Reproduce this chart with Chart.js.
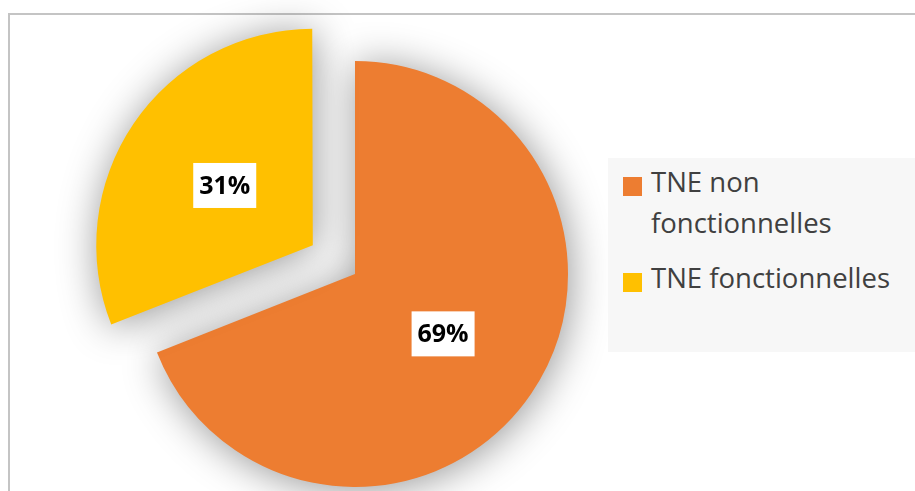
<!DOCTYPE html>
<html>
<head>
<meta charset="utf-8">
<script src="https://cdn.jsdelivr.net/npm/chart.js@4/dist/chart.umd.min.js"></script>
<style>
  html, body { margin: 0; padding: 0; background: #ffffff; }
  #wrap { position: relative; width: 915px; height: 491px; overflow: hidden; }
  #frame { position: absolute; left: 8px; top: 13px; width: 920px; height: 500px;
           border-left: 2px solid #c4c4c4; border-top: 2px solid #c4c4c4; box-sizing: border-box; }
  canvas { position: absolute; left: 0; top: 0; }
  #legend { position: absolute; left: 608px; top: 158px; width: 307px; height: 194px;
            background: #f7f7f7; font-family: "Open Sans", sans-serif; font-size: 27.5px;
            color: #404040; box-sizing: border-box; padding: 3px 0 0 15px; }
  .item { display: flex; align-items: flex-start; margin-bottom: 14px; }
  .sw { width: 19px; height: 19px; flex: none; margin-top: 16px; margin-right: 9px; }
  .txt { max-width: 262px; line-height: 41px; white-space: normal; }
</style>
</head>
<body>
<div id="wrap">
  <div id="frame"></div>
  <canvas id="c" width="915" height="491"></canvas>
  <div id="legend"></div>
</div>
<script>
const categories = ["TNE non fonctionnelles", "TNE fonctionnelles"];
const values = [69, 31];
const valueLabels = ["69%", "31%"];
const colors = ["#ED7D31", "#FFC000"];
// Chart.js v4 translates an arc by offset/4, so 204 gives the ~51px explosion
const explode = [0, 204];

const shadowPlugin = {
  id: 'shadow',
  beforeDatasetsDraw(chart) {
    const ctx = chart.ctx;
    ctx.save();
    ctx.shadowColor = 'rgba(0,0,0,0.42)';
    ctx.shadowBlur = 40;
    ctx.shadowOffsetX = 2;
    ctx.shadowOffsetY = 3;
  },
  afterDatasetsDraw(chart) {
    chart.ctx.restore();
  }
};

const labelPlugin = {
  id: 'boxLabels',
  afterDatasetsDraw(chart) {
    const ctx = chart.ctx;
    const meta = chart.getDatasetMeta(0);
    ctx.save();
    ctx.font = 'bold 25px "Open Sans", sans-serif';
    ctx.textAlign = 'center';
    ctx.textBaseline = 'middle';
    meta.data.forEach((arc, i) => {
      const p = arc.getProps(['x', 'y', 'startAngle', 'endAngle', 'outerRadius', 'innerRadius'], true);
      const mid = (p.startAngle + p.endAngle) / 2;
      const off = (arc.options.offset || 0) / 4;
      const d = off + (p.innerRadius + p.outerRadius) / 2;
      const cx = p.x + Math.cos(mid) * d;
      const cy = p.y + Math.sin(mid) * d;
      ctx.fillStyle = '#ffffff';
      ctx.fillRect(cx - 31.5, cy - 22.5, 63, 45);
      ctx.fillStyle = '#000000';
      ctx.fillText(valueLabels[i], cx, cy + 1);
    });
    ctx.restore();
  }
};

new Chart(document.getElementById('c'), {
  type: 'pie',
  data: {
    labels: categories,
    datasets: [{
      data: values,
      backgroundColor: colors,
      borderWidth: 0,
      offset: explode,
      radius: 213,
      clip: false
    }]
  },
  options: {
    responsive: false,
    animation: false,
    layout: { padding: { left: 0, right: 205, top: 57, bottom: 0 } },
    plugins: { legend: { display: false }, tooltip: { enabled: false } }
  },
  plugins: [shadowPlugin, labelPlugin]
});

const legend = document.getElementById('legend');
categories.forEach((name, i) => {
  const item = document.createElement('div');
  item.className = 'item';
  const sw = document.createElement('div');
  sw.className = 'sw';
  sw.style.background = colors[i];
  const t = document.createElement('div');
  t.className = 'txt';
  t.textContent = name;
  item.appendChild(sw);
  item.appendChild(t);
  legend.appendChild(item);
});
</script>
</body>
</html>
